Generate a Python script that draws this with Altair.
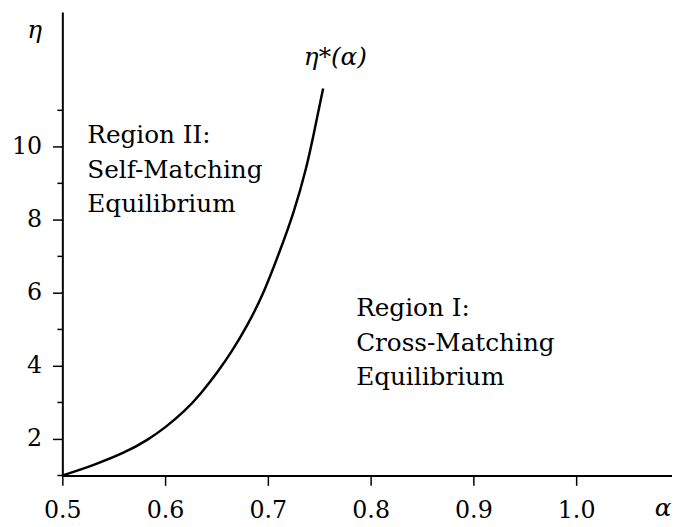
import altair as alt
import pandas as pd

# Curve eta*(alpha)
alpha_vals = [0.5, 0.5294, 0.5615, 0.584, 0.6, 0.6192, 0.6352, 0.6513, 0.664,
              0.680, 0.6962, 0.7121, 0.725, 0.7378, 0.7458, 0.7538]
eta_vals = [1.0, 1.27, 1.63, 1.99, 2.31, 2.76, 3.25, 3.84, 4.35,
            5.10, 6.0, 7.18, 8.17, 9.43, 10.51, 11.6]

x_ticks = [0.5, 0.6, 0.7, 0.8, 0.9, 1.0]
y_major = [2, 4, 6, 8, 10]
y_minor = [1, 3, 5, 7, 9, 11]

region2_lines = ["Region II:", "Self-Matching", "Equilibrium"]
region1_lines = ["Region I:", "Cross-Matching", "Equilibrium"]
curve_label = "η*(α)"

FONT = "DejaVu Serif"
FS = 25
TICK_FS = 24

curve_df = pd.DataFrame({"alpha": alpha_vals, "eta": eta_vals})
minor_df = pd.DataFrame({"eta": y_minor})

xscale = alt.Scale(domain=[0.5, 1.0933], nice=False, zero=False)
yscale = alt.Scale(domain=[1, 13.69], nice=False, zero=False)

xaxis = alt.Axis(values=x_ticks, format=".1f", title=None, grid=False,
                 tickSize=10, labelPadding=33, labelBaseline="alphabetic",
                 labelFlush=False, labelOverlap=False)
yaxis = alt.Axis(values=y_major, format="d", title=None, grid=False,
                 tickSize=10, labelPadding=11, labelOverlap=False)

curve = alt.Chart(curve_df).mark_line(color="black", strokeWidth=2.5,
                                      interpolate="basis").encode(
    x=alt.X("alpha:Q", scale=xscale, axis=xaxis),
    y=alt.Y("eta:Q", scale=yscale, axis=yaxis),
)

minor = alt.Chart(minor_df).mark_rule(color="black", strokeWidth=1.5).encode(
    y=alt.Y("eta:Q", scale=yscale),
    x=alt.value(-5),
    x2=alt.value(0),
)

reg2 = alt.Chart().mark_text(text=region2_lines, align="left", baseline="alphabetic",
                             font=FONT, fontSize=FS, lineHeight=35, color="black").encode(
    x=alt.datum(0.5243, scale=xscale), y=alt.datum(10.1, scale=yscale))

reg1 = alt.Chart().mark_text(text=region1_lines, align="left", baseline="alphabetic",
                             font=FONT, fontSize=FS, lineHeight=35, color="black").encode(
    x=alt.datum(0.7859, scale=xscale), y=alt.datum(5.36, scale=yscale))

clabel = alt.Chart().mark_text(text=curve_label, align="center", baseline="alphabetic",
                               font=FONT, fontSize=FS, fontStyle="italic", color="black").encode(
    x=alt.datum(0.7657, scale=xscale), y=alt.datum(12.24, scale=yscale))

eta_title = alt.Chart().mark_text(text="η", align="center", baseline="alphabetic",
                                  font=FONT, fontSize=FS, fontStyle="italic", color="black").encode(
    x=alt.value(-28), y=alt.value(26))

alpha_title = alt.Chart().mark_text(text="α", align="center", baseline="alphabetic",
                                    font=FONT, fontSize=FS, fontStyle="italic", color="black").encode(
    x=alt.value(608), y=alt.value(510))

chart = alt.layer(curve, minor, reg2, reg1, clabel, eta_title, alpha_title).properties(
    width=617, height=469,
    padding={"left": 55, "top": 1, "right": 0, "bottom": 49},
    autosize=alt.AutoSizeParams(type="none"),
).configure_view(stroke=None).configure_axis(
    domainColor="black", domainWidth=2, tickColor="black", tickWidth=1.5,
    labelFont=FONT, labelFontSize=TICK_FS, labelColor="black",
)

chart.save("out.html", embed_options={"renderer": "svg", "actions": False})
